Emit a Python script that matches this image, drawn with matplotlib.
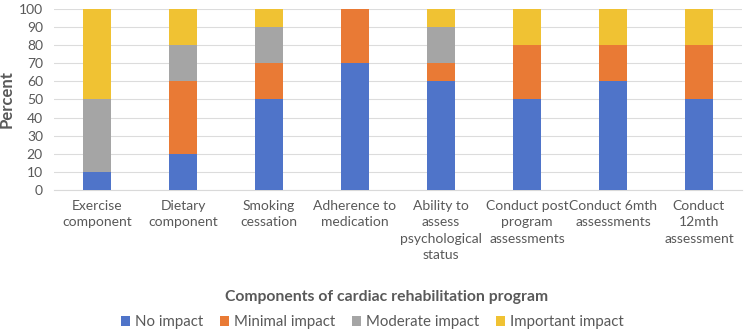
import matplotlib
matplotlib.use("Agg")
import matplotlib.pyplot as plt
import numpy as np

plt.rcParams['font.family'] = ['Lato', 'DejaVu Sans']

categories = ["Exercise\ncomponent", "Dietary\ncomponent", "Smoking\ncessation",
              "Adherence to\nmedication", "Ability to\nassess\npsychological\nstatus",
              "Conduct post\nprogram\nassessments", "Conduct 6mth\nassessments",
              "Conduct\n12mth\nassessment"]
series_names = ["No impact", "Minimal impact", "Moderate impact", "Important impact"]
no_impact = [10, 20, 50, 70, 60, 50, 60, 50]
minimal_impact = [0, 40, 20, 30, 10, 30, 20, 30]
moderate_impact = [40, 20, 20, 0, 20, 0, 0, 0]
important_impact = [50, 20, 10, 0, 10, 20, 20, 20]
colors = ["#4f74c9", "#e97a35", "#a5a5a5", "#f0c233"]

fig = plt.figure(figsize=(7.47, 3.35), dpi=100)
ax = fig.add_axes([0.0723, 0.433, 0.921, 0.54])

x = np.arange(len(categories))
bottom = np.zeros(len(categories))
for vals, name, c in zip([no_impact, minimal_impact, moderate_impact, important_impact], series_names, colors):
    ax.bar(x, vals, bottom=bottom, width=0.32, color=c, label=name, zorder=3)
    bottom += np.array(vals)

ax.set_xlim(-0.5, len(categories) - 0.5)
ax.set_ylim(0, 100)
ax.set_yticks(range(0, 101, 10))
ax.grid(axis='y', color='#dcdcdc', linewidth=0.8, zorder=0)
for s in ['top', 'right', 'left']:
    ax.spines[s].set_visible(False)
ax.spines['bottom'].set_color('#d9d9d9')
ax.tick_params(axis='both', length=0, colors='#595959', labelsize=10)
ax.tick_params(axis='x', pad=7)
ax.tick_params(axis='y', pad=8)
ax.set_xticks(x)
ax.set_xticklabels(categories, linespacing=1.45)
ax.set_ylabel("Percent", fontsize=12, fontweight='bold', color='#595959')
ax.yaxis.set_label_coords(-0.057, 0.5)

fig.text(0.518, 0.113, "Components of cardiac rehabilitation program", ha='center', va='center',
         fontsize=11.3, fontweight='bold', color='#595959')
handles, labels = ax.get_legend_handles_labels()
fig.legend(handles, labels, loc='center', bbox_to_anchor=(0.498, 0.038), ncol=4, frameon=False,
           fontsize=10.8, handlelength=0.65, handleheight=0.65, handletextpad=0.3, columnspacing=1.1,
           labelcolor='#595959')

fig.savefig("out.png", dpi=100)
